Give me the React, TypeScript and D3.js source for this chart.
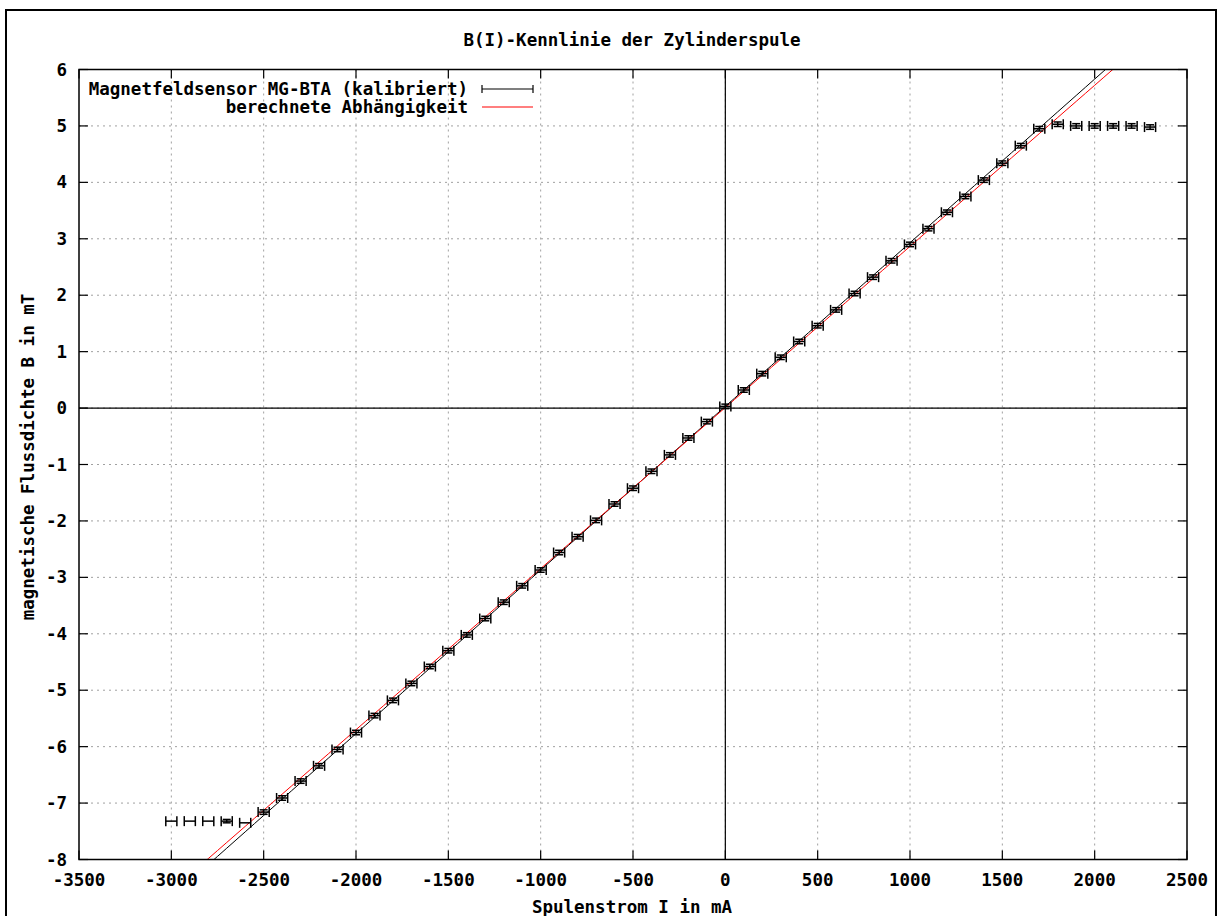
import React from "react";
import * as d3 from "d3";

const TITLE = "B(I)-Kennlinie der Zylinderspule";
const X_LABEL = "Spulenstrom I in mA";
const Y_LABEL = "magnetische Flussdichte B in mT";
const LEGEND_DATA = "Magnetfeldsensor MG-BTA (kalibriert)";
const LEGEND_CALC = "berechnete Abhängigkeit";

const xTicks = [-3500, -3000, -2500, -2000, -1500, -1000, -500, 0, 500, 1000, 1500, 2000, 2500];
const yTicks = [-8, -7, -6, -5, -4, -3, -2, -1, 0, 1, 2, 3, 4, 5, 6];

// measured current (mA)
const current = [
  -3000, -2900, -2800, -2700, -2600, -2500, -2400, -2300, -2200, -2100,
  -2000, -1900, -1800, -1700, -1600, -1500, -1400, -1300, -1200, -1100,
  -1000, -900, -800, -700, -600, -500, -400, -300, -200, -100,
  0, 100, 200, 300, 400, 500, 600, 700, 800, 900,
  1000, 1100, 1200, 1300, 1400, 1500, 1600, 1700, 1800, 1900,
  2000, 2100, 2200, 2300,
];
// measured flux density (mT)
const fluxB = [
  -7.32, -7.32, -7.32, -7.32, -7.35, -7.16, -6.91, -6.61, -6.34, -6.05,
  -5.75, -5.45, -5.18, -4.88, -4.58, -4.30, -4.02, -3.73, -3.44, -3.15,
  -2.87, -2.56, -2.28, -1.99, -1.70, -1.42, -1.12, -0.83, -0.53, -0.24,
  0.03, 0.32, 0.61, 0.90, 1.18, 1.46, 1.74, 2.03, 2.32, 2.61,
  2.90, 3.18, 3.47, 3.75, 4.04, 4.34, 4.65, 4.95, 5.03, 5.00,
  5.00, 5.00, 5.00, 4.98,
];
// uncertainties
const currentErr = 30; // mA
const fluxErr = [
  0, 0, 0, 0.03, 0, 0.04, 0.04, 0.04, 0.04, 0.04,
  0.04, 0.04, 0.04, 0.04, 0.04, 0.04, 0.04, 0.04, 0.04, 0.04,
  0.04, 0.04, 0.04, 0.04, 0.04, 0.04, 0.04, 0.04, 0.04, 0.04,
  0.04, 0.04, 0.04, 0.04, 0.04, 0.04, 0.04, 0.04, 0.04, 0.04,
  0.04, 0.04, 0.04, 0.04, 0.04, 0.04, 0.04, 0.04, 0.04, 0.04,
  0.04, 0.04, 0.04, 0.04,
];

// fitted line (black) and calculated dependency (red): B = m*I + b
const fitLine = { slope: 0.0029, intercept: 0.03 };
const calcLine = { slope: 0.002855, intercept: 0.01 };

const FONT = "'DejaVu Sans Mono', 'Liberation Mono', monospace";

export default function App() {
  const W = 1220, H = 916;
  const left = 79, right = 1187, top = 69.5, bottom = 859.5;
  const x = d3.scaleLinear().domain([-3500, 2500]).range([left, right]);
  const y = d3.scaleLinear().domain([-8, 6]).range([bottom, top]);
  const tickLen = 9;

  const lineFor = (l: { slope: number; intercept: number }) => {
    const xs = d3.range(-3500, 2501, 50);
    return d3
      .line<number>()
      .x((d) => x(d))
      .y((d) => y(l.slope * d + l.intercept))(xs) as string;
  };

  const points = current.map((c, i) => ({ c, b: fluxB[i], e: fluxErr[i] }));

  return (
    <svg
      width={W}
      height={H}
      style={{ position: "absolute", left: 0, top: 0, background: "#fff" }}
      fontFamily={FONT}
      fontWeight="bold"
    >
      <rect x={0} y={0} width={W} height={H} fill="#fff" />
      <rect x={6} y={10} width={1210} height={920} fill="none" stroke="#000" strokeWidth={2} />
      <defs>
        <clipPath id="plotClip">
          <rect x={left} y={top} width={right - left} height={bottom - top} />
        </clipPath>
      </defs>

      {/* grid */}
      <g stroke="#a0a0a0" strokeWidth={1} strokeDasharray="2,4">
        {xTicks.slice(1, -1).map((t) => (
          <line key={"gx" + t} x1={x(t)} x2={x(t)} y1={top} y2={bottom} />
        ))}
        {yTicks.slice(1, -1).map((t) => (
          <line key={"gy" + t} x1={left} x2={right} y1={y(t)} y2={y(t)} />
        ))}
      </g>

      {/* zero axes */}
      <line x1={x(0)} x2={x(0)} y1={top} y2={bottom} stroke="#000" strokeWidth={1.2} />
      <line x1={left} x2={right} y1={y(0)} y2={y(0)} stroke="#000" strokeWidth={1.2} />

      {/* ticks */}
      <g stroke="#000" strokeWidth={1.2}>
        {xTicks.map((t) => (
          <g key={"tx" + t}>
            <line x1={x(t)} x2={x(t)} y1={bottom} y2={bottom - tickLen} />
            <line x1={x(t)} x2={x(t)} y1={top} y2={top + tickLen} />
          </g>
        ))}
        {yTicks.map((t) => (
          <g key={"ty" + t}>
            <line x1={left} x2={left + tickLen} y1={y(t)} y2={y(t)} />
            <line x1={right} x2={right - tickLen} y1={y(t)} y2={y(t)} />
          </g>
        ))}
      </g>

      {/* lines */}
      <g clipPath="url(#plotClip)" fill="none">
        <path d={lineFor(fitLine)} stroke="#000" strokeWidth={1} />
        <path d={lineFor(calcLine)} stroke="#ff0000" strokeWidth={1} />
      </g>

      {/* error bars */}
      <g stroke="#000" strokeWidth={1.5} fill="none">
        {points.map((p, i) => {
          const px = x(p.c);
          const py = y(p.b);
          const x1 = x(p.c - currentErr);
          const x2 = x(p.c + currentErr);
          const cap = 5;
          return (
            <g key={"p" + i}>
              <line x1={x1} x2={x2} y1={py} y2={py} />
              <line x1={x1} x2={x1} y1={py - cap} y2={py + cap} />
              <line x1={x2} x2={x2} y1={py - cap} y2={py + cap} />
              {p.e > 0 && (
                <>
                  <line x1={px} x2={px} y1={y(p.b - p.e)} y2={y(p.b + p.e)} />
                  <line x1={px - 4} x2={px + 4} y1={y(p.b - p.e)} y2={y(p.b - p.e)} />
                  <line x1={px - 4} x2={px + 4} y1={y(p.b + p.e)} y2={y(p.b + p.e)} />
                </>
              )}
            </g>
          );
        })}
      </g>

      {/* frame */}
      <rect x={left} y={top} width={right - left} height={bottom - top} fill="none" stroke="#000" strokeWidth={1.5} />

      {/* tick labels */}
      <g fontSize={17.5} fill="#000">
        {xTicks.map((t) => (
          <text key={"lx" + t} x={x(t)} y={886} textAnchor="middle">
            {t}
          </text>
        ))}
        {yTicks.map((t) => (
          <text key={"ly" + t} x={67} y={y(t) + 6} textAnchor="end">
            {t}
          </text>
        ))}
      </g>

      {/* titles */}
      <text x={632} y={46} textAnchor="middle" fontSize={17.5}>
        {TITLE}
      </text>
      <text x={632} y={913} textAnchor="middle" fontSize={17.5}>
        {X_LABEL}
      </text>
      <text
        transform={`translate(34, ${457}) rotate(-90)`}
        textAnchor="middle"
        fontSize={17.5}
      >
        {Y_LABEL}
      </text>

      {/* legend */}
      <g fontSize={17.5}>
        <text x={468} y={95} textAnchor="end">{LEGEND_DATA}</text>
        <text x={468} y={113} textAnchor="end">{LEGEND_CALC}</text>
        <g stroke="#000" strokeWidth={1.2}>
          <line x1={482} x2={533} y1={89} y2={89} />
          <line x1={482} x2={482} y1={85} y2={93} />
          <line x1={533} x2={533} y1={85} y2={93} />
        </g>
        <line x1={482} x2={533} y1={107} y2={107} stroke="#ff0000" strokeWidth={1.2} />
      </g>
    </svg>
  );
}
